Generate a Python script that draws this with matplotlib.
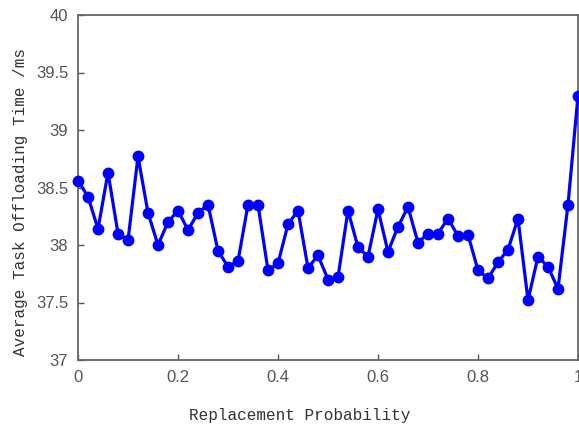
import numpy as np
import matplotlib.pyplot as plt

# replacement probability 0 .. 1, step 0.02
prob = np.round(np.arange(0, 1.0001, 0.02), 2)
avg_time = [38.56, 38.42, 38.14, 38.63, 38.10, 38.04, 38.77, 38.28, 38.00, 38.20,
            38.30, 38.13, 38.28, 38.35, 37.95, 37.81, 37.86, 38.35, 38.35, 37.78,
            37.84, 38.18, 38.30, 37.80, 37.91, 37.70, 37.72, 38.30, 37.98, 37.90,
            38.31, 37.94, 38.16, 38.33, 38.02, 38.10, 38.10, 38.23, 38.08, 38.09,
            37.78, 37.71, 37.85, 37.96, 38.23, 37.52, 37.90, 37.81, 37.62, 38.35,
            39.30]
xticks = [0, 0.2, 0.4, 0.6, 0.8, 1]
xticklabels = ['0', '0.2', '0.4', '0.6', '0.8', '1']
yticks = [37, 37.5, 38, 38.5, 39, 39.5, 40]
yticklabels = ['37', '37.5', '38', '38.5', '39', '39.5', '40']

plt.rcParams['font.family'] = ['Liberation Sans', 'DejaVu Sans']

fig = plt.figure(figsize=(5.79, 4.26), dpi=100)
ax = fig.add_axes([78/579, 1-360/426, 500/579, 345/426])

ax.plot(prob, avg_time, color='#0000ff', linewidth=2.3, marker='o',
        markersize=7.5, clip_on=False, zorder=3)

ax.set_xlim(0, 1)
ax.set_ylim(37, 40)
ax.set_xticks(xticks)
ax.set_xticklabels(xticklabels)
ax.set_yticks(yticks)
ax.set_yticklabels(yticklabels)
ax.tick_params(direction='in', length=4, width=1, colors='#555555',
               labelsize=12, pad=7)
ax.tick_params(top=False, right=False)
for s in ax.spines.values():
    s.set_color('#666666')
    s.set_linewidth(1.3)

ax.set_xlabel('Replacement Probability', family='Liberation Mono',
              fontsize=11.5, color='#333333')
ax.set_ylabel('Average Task Offloading Time /ms', family='Liberation Mono',
              fontsize=11.5, color='#333333')
ax.xaxis.set_label_coords(0.444, -0.14)
ax.yaxis.set_label_coords(-0.1, 0.458)

fig.savefig('out.png', dpi=100)
